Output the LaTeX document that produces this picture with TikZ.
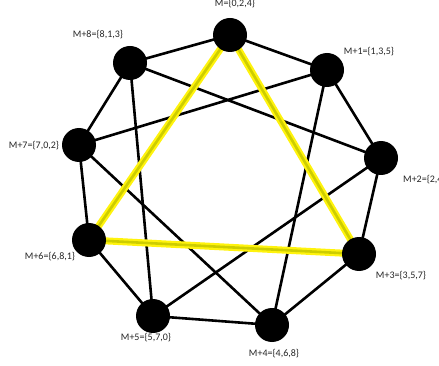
\documentclass[tikz,border=0pt]{standalone}
\usepackage{fontspec}
\newfontfamily\lblfont{Carlito}
\pgfdeclarelayer{bg}
\pgfsetlayers{bg,main}
\begin{document}
\begin{tikzpicture}[x=1pt,y=-1pt,
  vertex/.style={circle,fill=black,minimum size=34pt,inner sep=0pt},
  lbl/.style={font=\lblfont\fontsize{10}{11}\selectfont,text=black!85,inner sep=0pt},
  edge/.style={line width=2.6pt,black},
  hlglow/.style={line width=7pt,yellow!95!white},
  hlcore/.style={line width=2.6pt,color={rgb,255:red,205;green,205;blue,0}}]
\useasboundingbox (0,0) rectangle (439,366);
% vertices
\node[vertex] (v0) at (230,35) {};
\node[vertex] (v1) at (327,70) {};
\node[vertex] (v2) at (381,158) {};
\node[vertex] (v3) at (359,254) {};
\node[vertex] (v4) at (272,325) {};
\node[vertex] (v5) at (153,316) {};
\node[vertex] (v6) at (89,240) {};
\node[vertex] (v7) at (79,145) {};
\node[vertex] (v8) at (130,63) {};
% edges behind the vertices
\begin{pgfonlayer}{bg}
\foreach \a/\b in {v0/v1,v1/v2,v2/v3,v3/v4,v4/v5,v5/v6,v6/v7,v7/v8,v8/v0,
                   v1/v4,v4/v7,v7/v1,v2/v5,v5/v8,v8/v2}
  \draw[edge] (\a.center) -- (\b.center);
\foreach \a/\b in {v0/v3,v3/v6,v6/v0}
  \draw[hlglow] (\a.center) -- (\b.center);
\foreach \a/\b in {v0/v3,v3/v6,v6/v0}
  \draw[hlcore] (\a.center) -- (\b.center);
\end{pgfonlayer}
% labels
\node[lbl] (l0) at (235,4) {M=\{0,2,4\}};
\node[lbl] (l1) at (369,52) {M+1=\{1,3,5\}};
\node[lbl,anchor=west] (l2) at (403,180) {M+2=\{2,4,6};
\node[lbl] (l3) at (401,276) {M+3=\{3,5,7\}};
\node[lbl] (l4) at (274,354) {M+4=\{4,6,8\}};
\node[lbl] (l5) at (146,338) {M+5=\{5,7,0\}};
\node[lbl] (l6) at (50,257) {M+6=\{6,8,1\}};
\node[lbl] (l7) at (34,146) {M+7=\{7,0,2\}};
\node[lbl] (l8) at (98,35) {M+8=\{8,1,3\}};
\end{tikzpicture}
\end{document}
